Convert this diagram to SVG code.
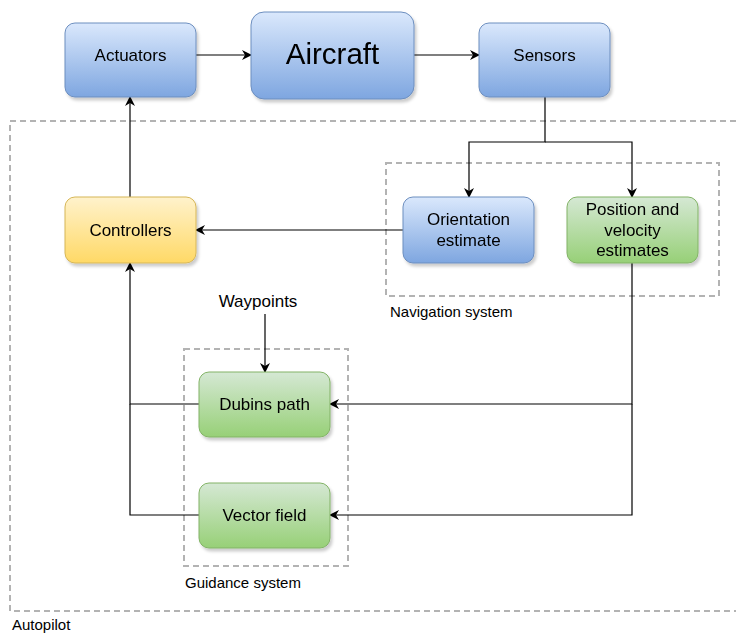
<svg xmlns="http://www.w3.org/2000/svg" width="736" height="634" viewBox="0 0 736 634">
<defs>
<linearGradient id="gBlue" x1="0" y1="0" x2="0" y2="1"><stop offset="0" stop-color="#dae8fc"/><stop offset="1" stop-color="#7ea6e0"/></linearGradient>
<linearGradient id="gGreen" x1="0" y1="0" x2="0" y2="1"><stop offset="0" stop-color="#d5e8d4"/><stop offset="1" stop-color="#97d077"/></linearGradient>
<linearGradient id="gYellow" x1="0" y1="0" x2="0" y2="1"><stop offset="0" stop-color="#fff2cc"/><stop offset="1" stop-color="#ffd966"/></linearGradient>
<marker id="arr" viewBox="0 0 10 10" refX="9" refY="5" markerWidth="10" markerHeight="10" markerUnits="userSpaceOnUse" orient="auto">
<path d="M0,0 L10,5 L0,10 L3,5 Z" fill="#000"/>
</marker>
<filter id="sh" x="-10%" y="-10%" width="130%" height="130%"><feDropShadow dx="2" dy="3" stdDeviation="1.5" flood-color="#000" flood-opacity="0.2"/></filter>
</defs>
<style>
.blue{fill:url(#gBlue);stroke:#6c8ebf;stroke-width:1}
.green{fill:url(#gGreen);stroke:#82b366;stroke-width:1}
.yellow{fill:url(#gYellow);stroke:#d6b656;stroke-width:1}
.grp{fill:none;stroke:#b3b3b3;stroke-width:2;stroke-dasharray:6 4}
.t{font-family:"Liberation Sans",Arial,sans-serif;font-size:17px;fill:#000;text-anchor:middle;dominant-baseline:central}
.lbl{font-family:"Liberation Sans",Arial,sans-serif;font-size:15px;fill:#000}
.c{fill:none;stroke:#000;stroke-width:1.2}
</style>
<g id="autopilot">
<rect class="grp" x="10" y="121" width="740" height="490"/>
<text class="lbl" x="12" y="629.5">Autopilot</text>
</g>
<g id="navigation">
<rect class="grp" x="386" y="163" width="333" height="133"/>
<text class="lbl" x="390" y="317">Navigation system</text>
</g>
<g id="guidance">
<rect class="grp" x="184" y="349" width="164" height="217"/>
<text class="lbl" x="185" y="588">Guidance system</text>
</g>
<g id="connectors">
<path class="c" d="M196,55 L251,55" marker-end="url(#arr)"/>
<path class="c" d="M414,55 L479,55" marker-end="url(#arr)"/>
<path class="c" d="M545,97 L545,142 L469,142 L469,197" marker-end="url(#arr)"/>
<path class="c" d="M545,142 L632,142 L632,197" marker-end="url(#arr)"/>
<path class="c" d="M403,230 L196,230" marker-end="url(#arr)"/>
<path class="c" d="M130,197 L130,97" marker-end="url(#arr)"/>
<path class="c" d="M199,404 L130,404 L130,263" marker-end="url(#arr)"/>
<path class="c" d="M199,515 L130,515 L130,404"/>
<path class="c" d="M632,263 L632,404 L330,404" marker-end="url(#arr)"/>
<path class="c" d="M632,404 L632,515 L330,515" marker-end="url(#arr)"/>
<path class="c" d="M265,314 L265,372" marker-end="url(#arr)"/>
</g>
<g id="actuators" filter="url(#sh)">
<rect class="blue" x="65" y="23" width="131" height="74" rx="10"/>
<text class="t" x="130.5" y="55">Actuators</text>
</g>
<g id="aircraft" filter="url(#sh)">
<rect class="blue" x="251" y="12" width="163" height="87" rx="13"/>
<text class="t" x="332.5" y="53" style="font-size:29.5px">Aircraft</text>
</g>
<g id="sensors" filter="url(#sh)">
<rect class="blue" x="479" y="23" width="131" height="74" rx="10"/>
<text class="t" x="544.5" y="55">Sensors</text>
</g>
<g id="controllers" filter="url(#sh)">
<rect class="yellow" x="65" y="197" width="131" height="66" rx="10"/>
<text class="t" x="130.5" y="230">Controllers</text>
</g>
<g id="orientation" filter="url(#sh)">
<rect class="blue" x="403" y="197" width="131" height="66" rx="10"/>
<text class="t" x="468.5" y="219">Orientation</text>
<text class="t" x="468.5" y="240">estimate</text>
</g>
<g id="position" filter="url(#sh)">
<rect class="green" x="567" y="197" width="131" height="66" rx="10"/>
<text class="t" x="632.5" y="209">Position and</text>
<text class="t" x="632.5" y="230">velocity</text>
<text class="t" x="632.5" y="250">estimates</text>
</g>
<g id="waypoints">
<text class="t" x="258" y="301">Waypoints</text>
</g>
<g id="dubins" filter="url(#sh)">
<rect class="green" x="199" y="372" width="131" height="65" rx="10"/>
<text class="t" x="264.5" y="404">Dubins path</text>
</g>
<g id="vectorfield" filter="url(#sh)">
<rect class="green" x="199" y="483" width="131" height="65" rx="10"/>
<text class="t" x="264.5" y="515">Vector field</text>
</g>
</svg>
